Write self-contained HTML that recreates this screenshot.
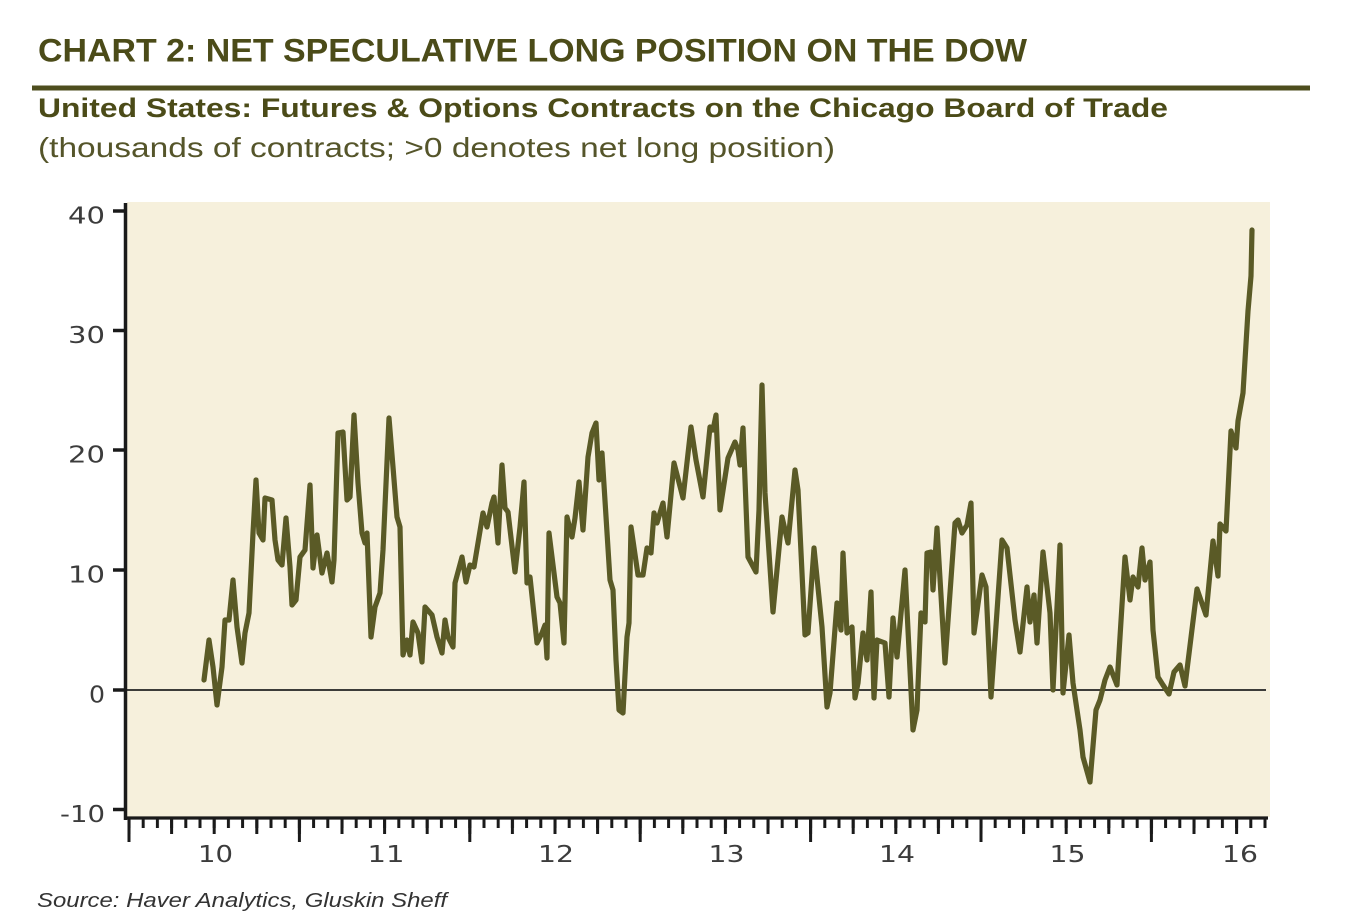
<!DOCTYPE html>
<html>
<head>
<meta charset="utf-8">
<style>
  html,body{margin:0;padding:0;background:#ffffff;}
  svg{display:block;}
</style>
</head>
<body>
<svg width="1363" height="921" viewBox="0 0 1363 921" xmlns="http://www.w3.org/2000/svg">
  <defs>
    <pattern id="tm" x="127.5" y="818" width="14.2" height="40" patternUnits="userSpaceOnUse">
      <rect x="0" y="0" width="3" height="10" fill="#1a1a1a"/>
    </pattern>
    <pattern id="tq" x="127.5" y="818" width="42.6" height="40" patternUnits="userSpaceOnUse">
      <rect x="0" y="0" width="3" height="16" fill="#1a1a1a"/>
    </pattern>
    <pattern id="ty" x="127.5" y="818" width="170.4" height="40" patternUnits="userSpaceOnUse">
      <rect x="0" y="0" width="3" height="24" fill="#1a1a1a"/>
    </pattern>
  </defs>

  <rect x="0" y="0" width="1363" height="921" fill="#ffffff"/>

  <text x="38" y="61.5" font-family="Liberation Sans, sans-serif" font-weight="bold" font-size="32" fill="#4b4b18" textLength="989" lengthAdjust="spacingAndGlyphs">CHART 2: NET SPECULATIVE LONG POSITION ON THE DOW</text>
  <rect x="32" y="85.5" width="1278" height="5" fill="#4e4e1e"/>
  <text x="38" y="117" font-family="Liberation Sans, sans-serif" font-weight="bold" font-size="27" fill="#4b4b18" textLength="1130" lengthAdjust="spacingAndGlyphs">United States: Futures &amp; Options Contracts on the Chicago Board of Trade</text>
  <text x="38" y="157" font-family="Liberation Sans, sans-serif" font-size="28" fill="#55552a" textLength="797" lengthAdjust="spacingAndGlyphs">(thousands of contracts; &gt;0 denotes net long position)</text>

  <rect x="127" y="202" width="1143" height="615" fill="#f6f0dc"/>

  <line x1="127" y1="690" x2="1266" y2="690" stroke="#222222" stroke-width="1.8"/>

  <polyline fill="none" stroke="#5a5a26" stroke-width="5.2" stroke-linejoin="round" stroke-linecap="round" points="204,680 209,640 213,667 217,705 222,667 225,620 229,620 233,580 237,627 242,663 245,633 249,613 253,533 256,480 259,533 263,540 265,498 272,500 275,540 278,560 282,565 286,518 290,567 292,605 296,600 300,557 305,550 310,485 313,568 317,535 322,573 327,553 332,582 334,560 338,433 343,432 347,500 350,497 354,415 358,483 362,533 365,543 367,533 371,637 375,607 380,593 383,550 389,418 393,467 397,517 400,527 403,655 407,640 410,655 413,622 418,633 422,662 425,607 432,615 437,637 442,653 445,620 448,637 453,647 455,583 462,557 466,582 470,565 474,567 483,513 487,527 492,503 494,497 498,543 502,465 505,508 508,512 515,572 520,527 524,482 527,583 530,577 537,643 542,633 545,625 547,658 549,533 557,597 560,603 564,643 567,517 572,537 575,518 579,482 583,530 588,457 592,433 596,423 599,480 602,453 610,580 613,590 616,660 619,710 623,713 627,637 629,623 631,527 638,575 643,575 647,548 651,553 654,513 657,523 663,503 667,537 674,463 683,498 691,427 696,460 703,497 710,427 713,430 716,415 720,510 728,458 735,442 738,450 740,465 743,428 748,557 756,572 759,510 762,385 765,493 773,612 782,517 788,543 795,470 798,490 805,635 808,633 814,548 822,627 827,707 830,693 837,603 841,630 843,553 847,633 852,627 855,698 858,683 863,633 867,660 871,592 874,698 877,640 885,643 889,697 893,618 897,657 905,570 913,730 917,710 921,613 925,622 927,553 931,552 933,590 937,528 945,663 955,523 958,520 962,533 967,525 971,503 974,633 982,575 986,587 991,697 1002,540 1007,548 1015,620 1020,652 1027,587 1030,622 1034,595 1037,643 1043,552 1050,613 1053,690 1060,545 1063,693 1069,635 1073,683 1077,710 1080,730 1083,757 1090,782 1096,710 1100,700 1105,680 1110,667 1117,685 1125,557 1130,600 1133,577 1138,587 1142,548 1145,580 1150,562 1153,630 1158,677 1163,685 1169,694 1174,672 1180,665 1185,686 1197,589 1206,615 1213,541 1218,576 1220,524 1226,531 1231,431 1236,448 1238,421 1243,393 1248,311 1251,276 1252,230"/>

  <line x1="125.5" y1="203" x2="125.5" y2="820" stroke="#1a1a1a" stroke-width="3.5"/>
  <path d="M113 211H126M113 330.5H126M113 450H126M113 570H126M113 690H126M113 809.5H126" stroke="#1a1a1a" stroke-width="3.5" fill="none"/>
  <g font-family="DejaVu Sans, sans-serif" font-size="23" fill="#3c3c3c" text-anchor="end">
    <text x="105" y="223.5" textLength="37" lengthAdjust="spacingAndGlyphs">40</text>
    <text x="105" y="343" textLength="37" lengthAdjust="spacingAndGlyphs">30</text>
    <text x="105" y="462.5" textLength="37" lengthAdjust="spacingAndGlyphs">20</text>
    <text x="105" y="582.5" textLength="37" lengthAdjust="spacingAndGlyphs">10</text>
    <text x="105" y="702.5" textLength="16" lengthAdjust="spacingAndGlyphs">0</text>
    <text x="105" y="822" textLength="45" lengthAdjust="spacingAndGlyphs">-10</text>
  </g>

  <line x1="124" y1="818" x2="1268" y2="818" stroke="#1a1a1a" stroke-width="3.2"/>
  <rect x="127" y="818" width="1141" height="10" fill="url(#tm)"/>
  <rect x="127" y="818" width="1141" height="16" fill="url(#tq)"/>
  <rect x="127" y="818" width="1141" height="24" fill="url(#ty)"/>

  <g font-family="DejaVu Sans, sans-serif" font-size="23" fill="#3c3c3c" text-anchor="middle">
    <text x="215.5" y="862" textLength="35" lengthAdjust="spacingAndGlyphs">10</text>
    <text x="386" y="862" textLength="37" lengthAdjust="spacingAndGlyphs">11</text>
    <text x="556" y="862" textLength="36" lengthAdjust="spacingAndGlyphs">12</text>
    <text x="726.5" y="862" textLength="36" lengthAdjust="spacingAndGlyphs">13</text>
    <text x="897" y="862" textLength="36" lengthAdjust="spacingAndGlyphs">14</text>
    <text x="1067.5" y="862" textLength="36" lengthAdjust="spacingAndGlyphs">15</text>
    <text x="1240" y="862" textLength="36" lengthAdjust="spacingAndGlyphs">16</text>
  </g>

  <text x="37" y="907" font-family="Liberation Sans, sans-serif" font-style="italic" font-size="20" fill="#333333" textLength="410" lengthAdjust="spacingAndGlyphs">Source: Haver Analytics, Gluskin Sheff</text>
</svg>
</body>
</html>
